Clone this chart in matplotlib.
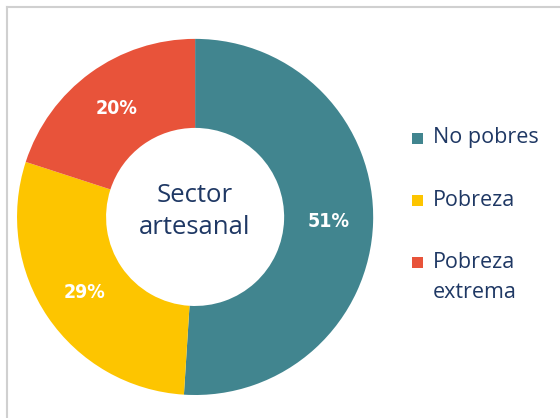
from matplotlib import pyplot as plt
from matplotlib.lines import Line2D
from matplotlib.patches import Rectangle

categorias = ['No pobres', 'Pobreza', 'Pobreza\nextrema']
valores = [51, 29, 20]
colores = ['#41858F', '#FDC500', '#E8533A']
centro = 'Sector\nartesanal'
azul = '#1F3864'

W, H = 560, 418
fig = plt.figure(figsize=(W / 100, H / 100), dpi=100)
ax = fig.add_axes([0.0304, 0.055, 0.636, 0.852])

wedges, texts, autotexts = ax.pie(valores, colors=colores, startangle=90, counterclock=False,
                                  autopct='%d%%', pctdistance=0.75,
                                  wedgeprops=dict(width=0.5, edgecolor='none'),
                                  textprops=dict(color='white', fontsize=14, fontweight='bold',
                                                 fontstretch='condensed', family='DejaVu Sans'))
ax.set_xlim(-1, 1)
ax.set_ylim(-1, 1)
ax.set_aspect('equal')
ax.text(0, 0.03, centro, ha='center', va='center', fontsize=18.5, color=azul,
        linespacing=1.35, family='Open Sans')

# leyenda a mano: cuadrado alineado con la primera linea
for i, (cat, col) in enumerate(zip(categorias, colores)):
    y = 1 - (138 + 62 * i) / H
    fig.add_artist(Rectangle((412 / W, y - 5.5 / H), 11 / W, 11 / H, facecolor=col,
                             edgecolor='none', transform=fig.transFigure))
    for j, linea in enumerate(cat.split('\n')):
        fig.text(433 / W, y - 31 * j / H, linea, ha='left', va='center', fontsize=15.5,
                 color=azul, family='Open Sans')

# marco gris arriba e izquierda
fig.add_artist(Line2D([7 / W, 7 / W], [0, 1 - 7 / H], color='#D0D0D0', lw=1.5,
                      transform=fig.transFigure))
fig.add_artist(Line2D([7 / W, 1], [1 - 7 / H, 1 - 7 / H], color='#D0D0D0', lw=1.5,
                      transform=fig.transFigure))

fig.savefig('out.png')
